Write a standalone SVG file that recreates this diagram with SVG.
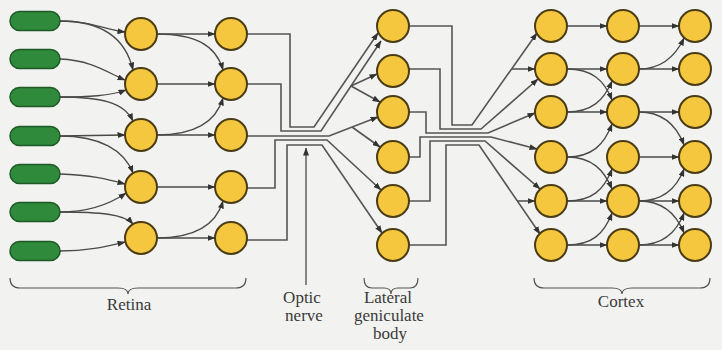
<svg xmlns="http://www.w3.org/2000/svg" width="722" height="350" viewBox="0 0 722 350">
<defs>
<marker id="ah" markerWidth="8" markerHeight="6" refX="7.5" refY="3" orient="auto" markerUnits="userSpaceOnUse">
<path d="M0,0 L8,3 L0,6 Z" fill="#333"/>
</marker>
<style>
.bg{fill:#f2f2f0}
.cell{fill:#f4c73e;stroke:#4a3c14;stroke-width:2}
.rod{fill:#2f8a3c;stroke:#1e5a26;stroke-width:1.5}
.c{fill:none;stroke:#4a4a4a;stroke-width:1.3}
.a{fill:none;stroke:#4a4a4a;stroke-width:1.3;marker-end:url(#ah)}
.f{fill:none;stroke:#555;stroke-width:1.6;stroke-linejoin:miter}
.fa{fill:none;stroke:#555;stroke-width:1.6;marker-end:url(#ah)}
.br{fill:none;stroke:#555;stroke-width:1.2}
.t{font-family:"Liberation Serif","Times New Roman",serif;font-size:17px;fill:#3a3a3a;text-anchor:middle}
</style>
</defs>
<rect class="bg" x="0" y="0" width="722" height="350"/>

<g id="connectors">
<!-- receptors to retina layer 1 -->
<path class="a" d="M60,21 C92,21 105,30 125,32"/>
<path class="a" d="M60,21 C105,21 126,40 133,70"/>
<path class="a" d="M60,59 C92,60 110,74 125,80"/>
<path class="a" d="M60,97 C88,97 110,96 126,90"/>
<path class="a" d="M60,97 C100,97 124,102 133,121"/>
<path class="a" d="M60,136 L125,135"/>
<path class="a" d="M60,136 C100,136 124,150 133,173"/>
<path class="a" d="M60,174 C92,175 110,180 125,184"/>
<path class="a" d="M60,212 C88,212 110,204 126,193"/>
<path class="a" d="M60,212 C100,212 124,214 133,224"/>
<path class="a" d="M60,251 C90,251 108,246 125,242"/>
<!-- retina layer 1 to layer 2 -->
<path class="a" d="M157,34 L215,34"/>
<path class="a" d="M157,34 C195,34 216,45 223,70"/>
<path class="a" d="M157,84 L215,84"/>
<path class="a" d="M157,135 C195,135 216,122 223,98"/>
<path class="a" d="M157,135 L215,135"/>
<path class="a" d="M157,187 L215,187"/>
<path class="a" d="M157,238 C195,238 216,225 223,201"/>
<path class="a" d="M157,238 L215,238"/>
<!-- optic nerve fibres -->
<path class="fa" d="M247,34 H290 V127 H314 L378,33"/>
<path class="fa" d="M247,84 H281 V131 H321 L381,41"/>
<path class="fa" d="M351,86 L377,74"/>
<path class="fa" d="M351,86 L380,102"/>
<path class="fa" d="M247,136 H329 L378,117"/>
<path class="fa" d="M352,127 L380,147"/>
<path class="fa" d="M247,188 H275 V140 H327 L381,190"/>
<path class="fa" d="M247,240 H287 V145 H322 L382,233"/>
<path class="a" d="M306,285 V148"/>
<!-- lateral geniculate to cortex -->
<path class="fa" d="M409,26 H452 V125 H472 L537,33"/>
<path class="fa" d="M512,69 L535,69"/>
<path class="fa" d="M409,69 H440 V129 H481 L538,79"/>
<path class="fa" d="M409,112 H426 V133 H488 L535,113"/>
<path class="fa" d="M409,157 H420 V137 H491 L537,149"/>
<path class="fa" d="M409,201 H430 V141 H485 L540,189"/>
<path class="fa" d="M409,245 H446 V145 H479 L540,234"/>
<path class="fa" d="M517,201 L535,201"/>
<!-- cortex column 1 to 2 -->
<path class="a" d="M567,26 L607,26"/>
<path class="a" d="M567,69 L607,69"/>
<path class="a" d="M567,69 C592,69 604,80 612,100"/>
<path class="a" d="M567,112 C592,112 604,100 612,81"/>
<path class="a" d="M567,112 L607,112"/>
<path class="a" d="M567,157 C592,157 604,145 612,124"/>
<path class="a" d="M567,157 C592,157 604,170 612,189"/>
<path class="a" d="M567,201 L607,201"/>
<path class="a" d="M567,201 C592,201 604,190 612,169"/>
<path class="a" d="M567,245 L607,245"/>
<path class="a" d="M567,245 C592,245 604,234 612,213"/>
<!-- cortex column 2 to 3 -->
<path class="a" d="M639,26 L679,26"/>
<path class="a" d="M639,69 C662,69 676,55 684,38"/>
<path class="a" d="M639,69 L679,69"/>
<path class="a" d="M639,112 L679,112"/>
<path class="a" d="M639,112 C662,112 676,124 684,145"/>
<path class="a" d="M639,157 L679,157"/>
<path class="a" d="M639,201 L679,201"/>
<path class="a" d="M639,201 C662,201 676,190 684,169"/>
<path class="a" d="M639,201 C662,201 676,213 684,233"/>
<path class="a" d="M639,245 L679,245"/>
<path class="a" d="M639,245 C662,245 676,234 684,213"/>
</g>

<g id="receptors">
<rect id="r1" class="rod" x="10" y="11.5" width="50" height="19" rx="9.5"/>
<rect id="r2" class="rod" x="10" y="49.5" width="50" height="19" rx="9.5"/>
<rect id="r3" class="rod" x="10" y="87.5" width="50" height="19" rx="9.5"/>
<rect id="r4" class="rod" x="10" y="126.5" width="50" height="19" rx="9.5"/>
<rect id="r5" class="rod" x="10" y="164.5" width="50" height="19" rx="9.5"/>
<rect id="r6" class="rod" x="10" y="202.5" width="50" height="19" rx="9.5"/>
<rect id="r7" class="rod" x="10" y="241.5" width="50" height="19" rx="9.5"/>
</g>

<g id="retina1">
<circle id="a1" class="cell" cx="141" cy="34" r="16"/>
<circle id="a2" class="cell" cx="141" cy="84" r="16"/>
<circle id="a3" class="cell" cx="141" cy="135" r="16"/>
<circle id="a4" class="cell" cx="141" cy="187" r="16"/>
<circle id="a5" class="cell" cx="141" cy="238" r="16"/>
</g>
<g id="retina2">
<circle id="b1" class="cell" cx="231" cy="34" r="16"/>
<circle id="b2" class="cell" cx="231" cy="84" r="16"/>
<circle id="b3" class="cell" cx="231" cy="135" r="16"/>
<circle id="b4" class="cell" cx="231" cy="187" r="16"/>
<circle id="b5" class="cell" cx="231" cy="238" r="16"/>
</g>
<g id="lgn">
<circle id="g1" class="cell" cx="393" cy="26" r="16"/>
<circle id="g2" class="cell" cx="393" cy="71" r="16"/>
<circle id="g3" class="cell" cx="393" cy="112" r="16"/>
<circle id="g4" class="cell" cx="393" cy="157" r="16"/>
<circle id="g5" class="cell" cx="393" cy="201" r="16"/>
<circle id="g6" class="cell" cx="393" cy="245" r="16"/>
</g>
<g id="cortex1">
<circle id="c11" class="cell" cx="551" cy="26" r="16"/>
<circle id="c12" class="cell" cx="551" cy="69" r="16"/>
<circle id="c13" class="cell" cx="551" cy="112" r="16"/>
<circle id="c14" class="cell" cx="551" cy="157" r="16"/>
<circle id="c15" class="cell" cx="551" cy="201" r="16"/>
<circle id="c16" class="cell" cx="551" cy="245" r="16"/>
</g>
<g id="cortex2">
<circle id="c21" class="cell" cx="623" cy="26" r="16"/>
<circle id="c22" class="cell" cx="623" cy="69" r="16"/>
<circle id="c23" class="cell" cx="623" cy="112" r="16"/>
<circle id="c24" class="cell" cx="623" cy="157" r="16"/>
<circle id="c25" class="cell" cx="623" cy="201" r="16"/>
<circle id="c26" class="cell" cx="623" cy="245" r="16"/>
</g>
<g id="cortex3">
<circle id="c31" class="cell" cx="695" cy="26" r="16"/>
<circle id="c32" class="cell" cx="695" cy="69" r="16"/>
<circle id="c33" class="cell" cx="695" cy="112" r="16"/>
<circle id="c34" class="cell" cx="695" cy="157" r="16"/>
<circle id="c35" class="cell" cx="695" cy="201" r="16"/>
<circle id="c36" class="cell" cx="695" cy="245" r="16"/>
</g>

<g id="label-retina">
<path class="br" d="M10,278 Q10,288 20,288 H118 Q128,288 128,294 Q128,288 138,288 H236 Q246,288 246,278"/>
<text class="t" x="129" y="310">Retina</text>
</g>
<g id="label-optic">
<text class="t" x="302" y="303">Optic</text>
<text class="t" x="304" y="321">nerve</text>
</g>
<g id="label-lgn">
<path class="br" d="M364,278 Q364,288 372,288 H384 Q391,288 391,294 Q391,288 398,288 H410 Q418,288 418,278"/>
<text class="t" x="388" y="303">Lateral</text>
<text class="t" x="389" y="321">geniculate</text>
<text class="t" x="390" y="339">body</text>
</g>
<g id="label-cortex">
<path class="br" d="M534,278 Q534,288 544,288 H612 Q622,288 622,294 Q622,288 632,288 H700 Q710,288 710,278"/>
<text class="t" x="621" y="307">Cortex</text>
</g>
</svg>
